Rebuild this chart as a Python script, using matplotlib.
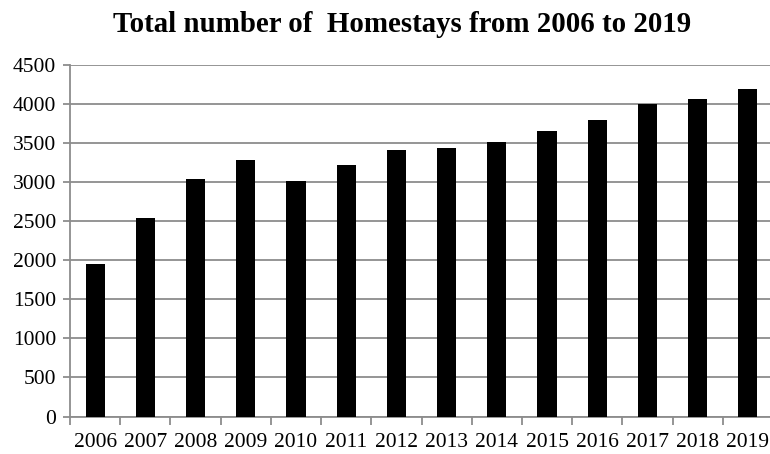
import matplotlib
matplotlib.use("Agg")
import matplotlib.pyplot as plt
import numpy as np

years = ["2006", "2007", "2008", "2009", "2010", "2011", "2012",
         "2013", "2014", "2015", "2016", "2017", "2018", "2019"]
homestays = [1950, 2540, 3035, 3280, 3010, 3212, 3415,
             3432, 3515, 3650, 3787, 3995, 4065, 4195]
yticks = [0, 500, 1000, 1500, 2000, 2500, 3000, 3500, 4000, 4500]

plt.rcParams['font.family'] = ['Liberation Serif', 'DejaVu Serif']

W, H = 770, 454
fig = plt.figure(figsize=(W / 100, H / 100), dpi=100)
left, right, top, bottom = 70, 773, 64.7, 416.5
ax = fig.add_axes([left / W, 1 - bottom / H, (right - left) / W, (bottom - top) / H])

x = np.arange(len(years))
ax.bar(x, homestays, width=0.38, color='black', zorder=3)

ax.set_xlim(-0.5, len(years) - 0.5)
ax.set_ylim(0, 4500)
ax.set_yticks(yticks)
ax.set_yticklabels([str(v) for v in yticks], fontsize=15.5)

ax.set_xticks(x)
ax.set_xticklabels(years, fontsize=15.5)
ax.set_xticks(np.arange(len(years) + 1) - 0.5, minor=True)
ax.tick_params(axis='x', which='major', length=0, pad=12)
ax.tick_params(axis='x', which='minor', length=6, color='#8c8c8c', width=1.3)
ax.tick_params(axis='y', length=5, color='#8c8c8c', width=1.3, pad=5)

ax.grid(axis='y', color='#8c8c8c', linewidth=1.3, zorder=0)
for s in ['top', 'right']:
    ax.spines[s].set_visible(False)
for s in ['left', 'bottom']:
    ax.spines[s].set_color('#8c8c8c')
    ax.spines[s].set_linewidth(1.3)

fig.text(402.5 / W, 1 - 32 / H, "Total number of  Homestays from 2006 to 2019",
         ha='center', va='baseline', fontsize=20.8, fontweight='bold')

fig.savefig("out.png", dpi=100)
